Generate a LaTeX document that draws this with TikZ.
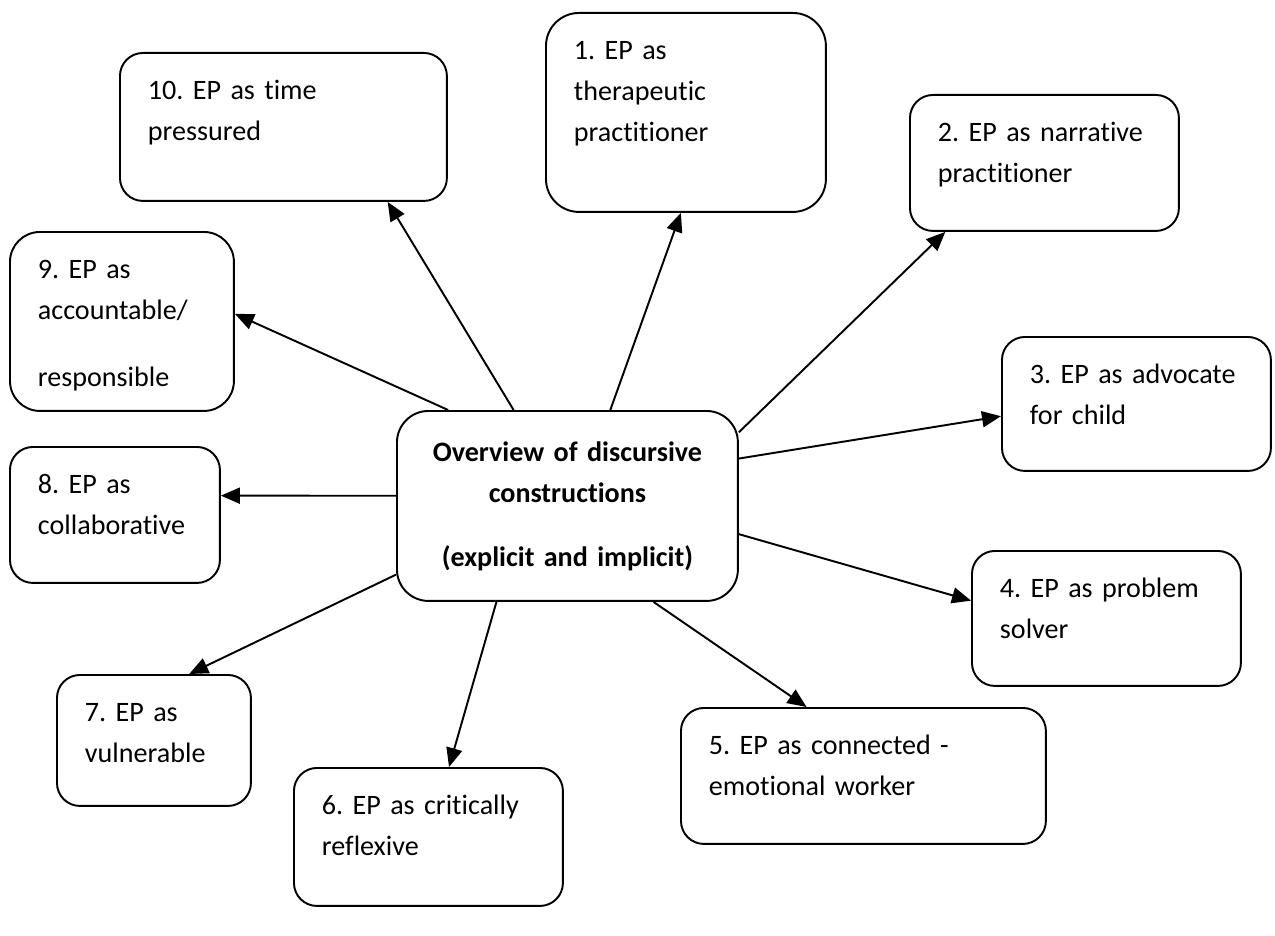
\documentclass[tikz,border=0pt]{standalone}
\usepackage{fontspec}
\setmainfont{Carlito}[Ligatures=NoCommon]
\usetikzlibrary{calc, arrows.meta}

\begin{document}
\begin{tikzpicture}[x=0.02cm, y=-0.02cm,
                  every node/.style={font=\fontsize{16}{23.3}\selectfont\frenchspacing},
                  bx/.style={draw, line width=1.1pt, rounded corners=0.46cm, anchor=north west,
                             align=left, inner xsep=0.56cm, inner ysep=0mm, text height=0.94cm},
                  hub/.style={bx, align=center, inner xsep=0.2cm, text height=1.02cm,
                             font=\fontsize{16}{23.3}\selectfont\frenchspacing\bfseries},
                  arr/.style={-{Triangle[length=0.38cm, width=0.32cm]}, line width=1.1pt}]

    \useasboundingbox (0,0) rectangle (1275,936); % same frame as the scanned figure

    \node [hub, text width=6.42cm, text depth=2.78cm, rounded corners=0.63cm] (c) at (396,410)
          {Overview of discursive\\ constructions\\[0.46cm] (explicit and implicit)};

    \node [bx, text width=4.48cm, text depth=3.04cm, rounded corners=0.66cm] (b1) at (545,12)
          {1. EP as\\ therapeutic\\ practitioner};
    \node [bx, text width=4.26cm, text depth=1.78cm] (b2) at (909,94)
          {2. EP as narrative\\ practitioner};
    \node [bx, text width=4.26cm, text depth=1.74cm] (b3) at (1001,336)
          {3. EP as advocate\\ for child};
    \node [bx, text width=4.26cm, text depth=1.76cm] (b4) at (971,550)
          {4. EP as problem\\ solver};
    \node [bx, text width=6.18cm, text depth=1.78cm] (b5) at (680,707)
          {5. EP as connected -\\ emotional worker};
    \node [bx, text width=4.26cm, text depth=1.82cm] (b6) at (293,767)
          {6. EP as critically\\ reflexive};
    \node [bx, text width=2.76cm, text depth=1.68cm] (b7) at (56,674)
          {7. EP as\\ vulnerable};
    \node [bx, text width=3.08cm, text depth=1.78cm] (b8) at (9,446)
          {8. EP as\\ collaborative};
    \node [bx, text width=3.36cm, text depth=2.64cm, rounded corners=0.6cm] (b9) at (9,231)
          {9. EP as\\ accountable/\\[0.52cm] responsible};
    \node [bx, text width=5.42cm, text depth=2.02cm] (b10) at (119,52)
          {10. EP as time\\ pressured};

    % spokes from the overview box
    \draw [arr] ($(c.north west)!0.625!(c.north east)$) -- ($(b1.south west)!0.482!(b1.south east)$);
    \draw [arr] ($(c.north east)!0.116!(c.south east)$) -- ($(b2.south west)!0.134!(b2.south east)$);
    \draw [arr] ($(c.north east)!0.253!(c.south east)$) -- ($(b3.north west)!0.59!(b3.south west)$);
    \draw [arr] ($(c.north east)!0.647!(c.south east)$) -- ($(b4.north west)!0.37!(b4.south west)$);
    \draw [arr] ($(c.south west)!0.751!(c.south east)$) -- ($(b5.north west)!0.345!(b5.north east)$);
    \draw [arr] ($(c.south west)!0.293!(c.south east)$) -- ($(b6.north west)!0.576!(b6.north east)$);
    \draw [arr] ($(c.north west)!0.858!(c.south west)$) -- ($(b7.north west)!0.68!(b7.north east)$);
    \draw [arr] ($(c.north west)!0.447!(c.south west)$) -- ($(b8.north east)!0.36!(b8.south east)$);
    \draw [arr] ($(c.north west)!0.152!(c.north east)$) -- ($(b9.north east)!0.458!(b9.south east)$);
    \draw [arr] ($(c.north west)!0.343!(c.north east)$) -- ($(b10.south west)!0.817!(b10.south east)$);

\end{tikzpicture}
\end{document}
